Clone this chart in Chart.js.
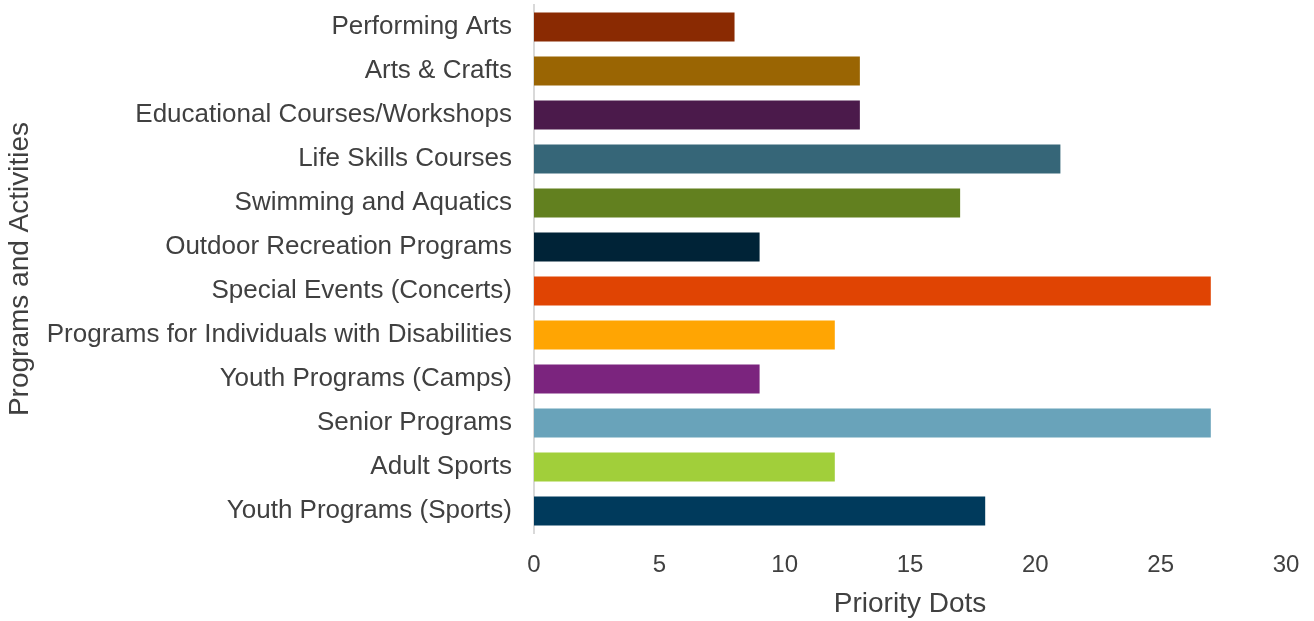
<!DOCTYPE html>
<html>
<head>
<meta charset="utf-8">
<script src="https://cdn.jsdelivr.net/npm/chart.js@4"></script>
<style>
html,body{margin:0;padding:0;background:#fff;}
#wrap{width:1314px;height:621px;position:relative;}
</style>
</head>
<body>
<div id="wrap"><canvas id="c" width="1314" height="621"></canvas></div>
<script>
const categories = [
  "Performing Arts",
  "Arts & Crafts",
  "Educational Courses/Workshops",
  "Life Skills Courses",
  "Swimming and Aquatics",
  "Outdoor Recreation Programs",
  "Special Events (Concerts)",
  "Programs for Individuals with Disabilities",
  "Youth Programs (Camps)",
  "Senior Programs",
  "Adult Sports",
  "Youth Programs (Sports)"
];
const priorityDots = [8, 13, 13, 21, 17, 9, 27, 12, 9, 27, 12, 18];
const barColors = [
  "#8a2a02", "#9a6503", "#4b1a4b", "#366678", "#62801f", "#002337",
  "#e04403", "#ffa503", "#7b247e", "#69a3ba", "#a1cf3a", "#003a5c"
];
const xTicks = [0, 5, 10, 15, 20, 25, 30];

const FONT = "'Liberation Sans', Arial, sans-serif";
new Chart(document.getElementById('c'), {
  type: 'bar',
  data: {
    labels: categories,
    datasets: [{
      data: priorityDots,
      backgroundColor: barColors,
      borderWidth: 0,
      barPercentage: 0.66,
      categoryPercentage: 1.0
    }]
  },
  options: {
    indexAxis: 'y',
    responsive: false,
    animation: false,
    layout: { padding: { top: 5, right: 28, bottom: 0, left: 0 } },
    plugins: { legend: { display: false }, tooltip: { enabled: false } },
    scales: {
      x: {
        min: 0, max: 30,
        afterBuildTicks: (axis) => { axis.ticks = xTicks.map(v => ({ value: v })); },
        afterFit: (axis) => { axis.height = 88; axis.paddingLeft = 0; axis.paddingRight = 0; },
        grid: { display: false, drawTicks: false },
        border: { display: false },
        ticks: { color: '#404040', font: { family: FONT, size: 24 }, padding: 18, maxRotation: 0 },
        title: { display: true, text: 'Priority Dots', color: '#404040', font: { family: FONT, size: 28 }, padding: { top: 0, bottom: 0 } }
      },
      y: {
        afterFit: (axis) => { axis.width = 534; axis.paddingTop = 0; axis.paddingBottom = 0; },
        grid: { display: false, drawTicks: false },
        border: { display: true, color: '#d9d9d9', width: 2 },
        ticks: { color: '#404040', font: { family: FONT, size: 26 }, padding: 22 },
        title: { display: true, text: 'Programs and Activities', color: '#404040', font: { family: FONT, size: 28 }, padding: { top: 3, bottom: 0 } }
      }
    }
  }
});
</script>
</body>
</html>
